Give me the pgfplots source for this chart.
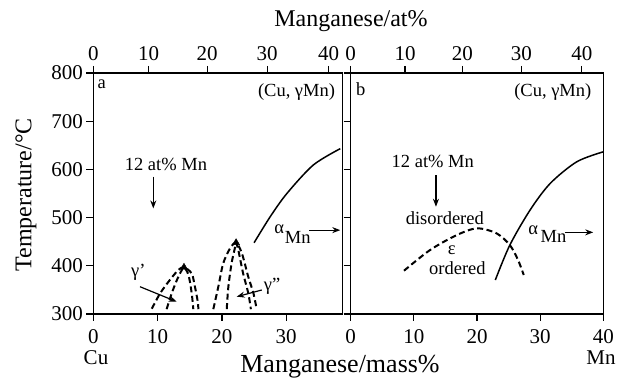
\documentclass[border=0pt]{standalone}
\usepackage{fontspec}
\setmainfont{Liberation Serif}
\usepackage{pgfplots}
\pgfplotsset{compat=1.18}
\usetikzlibrary{arrows.meta}
\newcommand{\annot}{\fontsize{18.5}{20}\selectfont}
\tikzset{arr/.style={line width=1.2pt, -{Stealth[length=8pt,width=6pt]}}}
\begin{document}
\begin{tikzpicture}
\useasboundingbox (0pt,0pt) rectangle (617pt,379pt);
\pgfplotsset{
  panel/.style={
    scale only axis, height=241pt, ymin=300, ymax=800,
    axis line style={line width=1.2pt},
    every tick/.style={line width=1.2pt, black},
    tick align=outside, major tick length=7pt,
    xtick pos=bottom, ytick pos=left,
    ytick={300,400,...,800},
    xtick={0,10,...,40},
    tick label style={font=\fontsize{21}{21}\selectfont},
    xticklabel style={yshift=-5pt},
    /pgf/number format/assume math mode=true,
    clip=false,
  },
  toppanel/.style={
    scale only axis, height=241pt, ymin=300, ymax=800,
    axis x line*=top, hide y axis,
    axis line style={line width=1.2pt},
    every tick/.style={line width=1.2pt, black},
    tick align=outside, major tick length=7pt,
    xtick={0,8.6,17.7,27.035,36.6},
    xticklabels={0,10,20,30,40},
    tick label style={font=\fontsize{21}{21}\selectfont},
    xticklabel style={yshift=2pt},
    /pgf/number format/assume math mode=true,
  },
  dsh/.style={line width=2pt, dash pattern=on 6pt off 3.5pt, smooth, tension=0.5},
  sol/.style={line width=1.5pt, smooth, tension=0.5},
}
% ---------- left panel ----------
\begin{axis}[panel, at={(93.3pt,65pt)}, anchor=south west, width=249.2pt, xmin=0, xmax=38.75]
\addplot[dsh] coordinates {(9.1,311)(10.4,343)(11.9,370.5)(13.2,391)(14.1,397)(15.3,384)(15.8,356.6)(16.2,329)(16.35,310)};
\addplot[dsh] coordinates {(11.4,310)(12.2,343)(13.0,370.5)(13.75,391)(14.1,397)(14.8,381)(15.3,343)(15.55,310)};
\addplot[dsh] coordinates {(18.66,310)(19.44,356.6)(20.2,405)(21.26,436)(22.2,448)(23.1,426)(24.1,377)(24.9,343)(25.4,310)};
\addplot[dsh] coordinates {(20.75,310)(21.0,356.6)(21.5,405)(22.0,436)(22.2,448)(22.55,432.7)(23.3,384)(24.1,343)(24.5,310)};
\addplot[only marks, mark=triangle*, mark size=4pt, black] coordinates {(14.1,397)(22.2,448)};
\addplot[sol] coordinates {(25.0,447.8)(27.5,501.7)(30.1,550)(34.2,609)(38.4,643)};
\node[font=\annot] at (axis cs:1.3,777) {a};
\node[font=\annot] at (axis cs:31.6,761) {(Cu, γMn)};
\node[font=\annot] at (axis cs:11.3,611) {12 at\% Mn};
\draw[arr] (axis cs:9.33,585) -- (axis cs:9.33,519);
\node[font=\annot] at (axis cs:7.0,386) {γ'};
\draw[arr] (axis cs:7.26,356.6) -- (axis cs:12.97,325.5);
\node[font=\annot] at (axis cs:27.8,356.6) {γ''};
\draw[arr] (axis cs:26.2,349.8) -- (axis cs:22.3,335.9);
\node[font=\annot] at (axis cs:28.9,476) {α};
\node[font=\annot] at (axis cs:31.8,459.6) {Mn};
\draw[arr] (axis cs:33.55,474) -- (axis cs:38.4,474);
\end{axis}
\begin{axis}[toppanel, at={(93.3pt,65pt)}, anchor=south west, width=249.2pt, xmin=0, xmax=38.75]
\end{axis}
% ---------- right panel ----------
\begin{axis}[panel, at={(350.7pt,65pt)}, anchor=south west, width=252.6pt, xmin=0, xmax=40, yticklabels={}]
\addplot[dsh] coordinates {(8.44,389.8)(12.56,432.7)(16.8,463.8)(20.0,477.7)(23.1,467.3)(25.2,443)(26.5,412)(27.4,380.9)};
\addplot[sol] coordinates {(22.9,370.5)(25.2,443)(28.4,515.6)(31.6,571)(35.8,615.8)(40,636.5)};
\node[font=\annot] at (axis cs:1.6,766) {b};
\node[font=\annot] at (axis cs:32.0,759.7) {(Cu, γMn)};
\node[font=\annot] at (axis cs:13.0,617) {12 at\% Mn};
\draw[arr] (axis cs:13.5,588) -- (axis cs:13.5,522.5);
\node[font=\annot] at (axis cs:14.9,498.4) {disordered};
\node[font=\annot] at (axis cs:16.0,432.7) {ε};
\node[font=\annot] at (axis cs:16.9,394.8) {ordered};
\node[font=\annot] at (axis cs:28.9,474) {α};
\node[font=\annot] at (axis cs:32.1,461.7) {Mn};
\draw[arr] (axis cs:33.9,469.4) -- (axis cs:38.4,469.4);
\end{axis}
\begin{axis}[toppanel, at={(350.7pt,65pt)}, anchor=south west, width=252.6pt, xmin=0, xmax=40]
\end{axis}
% ---------- labels ----------
\node[font=\fontsize{24}{24}\selectfont] at (351pt,358pt) {Manganese/at\%};
\node[font=\fontsize{26}{26}\selectfont] at (340pt,12pt) {Manganese/mass\%};
\node[font=\fontsize{24}{24}\selectfont, rotate=90] at (26pt,184pt) {Temperature/°C};
\node[font=\fontsize{21}{21}\selectfont] at (96pt,21pt) {Cu};
\node[font=\fontsize{21}{21}\selectfont] at (601pt,21pt) {Mn};
\end{tikzpicture}
\end{document}
